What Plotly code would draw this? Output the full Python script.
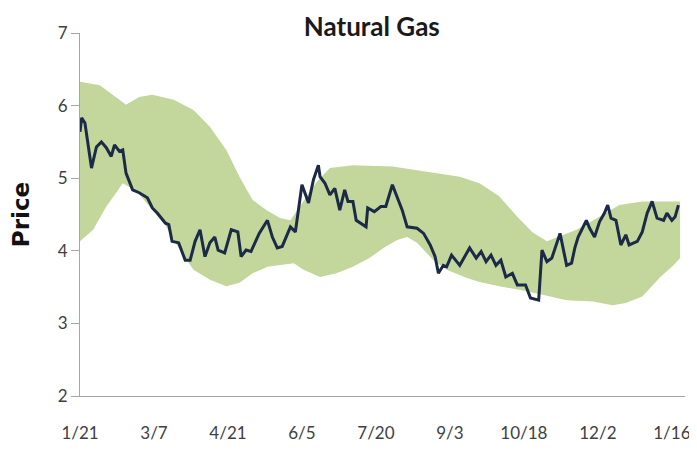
#!/usr/bin/env python3
"""Natural Gas price with trading band."""

import pandas as pd
import plotly.graph_objects as go

START = pd.Timestamp('2013-01-21')

# Price line: days since 1/21 and price
price_days = [0, 1, 3, 7, 10, 13, 16, 19, 21, 24, 26, 28, 32, 36, 41, 44, 47, 52, 54, 56,
              60, 64, 67, 70, 73, 76, 79, 82, 84, 88, 92, 96, 98, 101, 104, 109, 114, 117, 120, 123,
              128, 131, 135, 139, 142, 145, 146, 149, 152, 155, 158, 161, 163, 166, 168, 172, 174, 175, 179, 183,
              186, 190, 193, 196, 199, 205, 209, 213, 216, 218, 221, 223, 226, 231, 237, 241, 244, 247, 250, 253,
              256, 259, 263, 266, 271, 274, 279, 281, 284, 287, 292, 296, 299, 301, 303, 308, 310, 313, 316, 319,
              321, 323, 326, 329, 332, 334, 339, 342, 345, 348, 351, 355, 357, 360, 362, 364]
price = [5.64, 5.83, 5.76, 5.14, 5.43, 5.50, 5.42, 5.30, 5.46, 5.37, 5.39, 5.07, 4.84, 4.80, 4.73, 4.59, 4.52, 4.38, 4.36, 4.13,
         4.11, 3.87, 3.87, 4.13, 4.29, 3.92, 4.11, 4.19, 4.01, 3.97, 4.29, 4.26, 3.92, 4.01, 3.99, 4.24, 4.42, 4.19, 4.04, 4.06,
         4.33, 4.26, 4.91, 4.66, 4.98, 5.18, 5.02, 4.93, 4.77, 4.86, 4.56, 4.84, 4.68, 4.68, 4.42, 4.36, 4.33, 4.59, 4.54, 4.61,
         4.61, 4.91, 4.73, 4.56, 4.33, 4.31, 4.24, 4.08, 3.92, 3.69, 3.80, 3.78, 3.94, 3.80, 4.04, 3.90, 3.99, 3.85, 3.94, 3.80,
         3.87, 3.64, 3.69, 3.53, 3.53, 3.35, 3.32, 4.01, 3.85, 3.90, 4.24, 3.80, 3.83, 4.04, 4.19, 4.42, 4.31, 4.19, 4.40, 4.52,
         4.63, 4.45, 4.42, 4.08, 4.22, 4.08, 4.13, 4.26, 4.52, 4.68, 4.45, 4.42, 4.52, 4.42, 4.47, 4.63]

# Band upper edge
upper_days = [0, 12, 24, 28, 36, 44, 57, 69, 79, 89, 97, 105, 114, 122, 128, 136, 144, 152, 166, 190,
              211, 231, 243, 255, 266, 275, 284, 302, 316, 328, 342, 365]
upper = [6.33, 6.28, 6.08, 6.01, 6.12, 6.15, 6.08, 5.94, 5.71, 5.39, 5.02, 4.70, 4.55, 4.45, 4.42, 4.68, 4.95, 5.14, 5.18, 5.16,
         5.09, 5.02, 4.93, 4.75, 4.47, 4.26, 4.13, 4.29, 4.47, 4.63, 4.68, 4.68]

# Band lower edge
lower_days = [0, 8, 16, 22, 26, 32, 36, 43, 52, 61, 69, 79, 89, 97, 105, 114, 122, 130, 136, 146,
              156, 166, 176, 186, 193, 199, 205, 215, 223, 235, 243, 255, 268, 282, 296, 312, 324, 332, 342, 353,
              361, 365]
lower = [4.13, 4.29, 4.61, 4.80, 4.93, 4.85, 4.78, 4.60, 4.35, 4.00, 3.74, 3.60, 3.51, 3.56, 3.69, 3.78, 3.80, 3.83, 3.74, 3.64,
         3.69, 3.78, 3.90, 4.06, 4.15, 4.19, 4.11, 3.87, 3.74, 3.63, 3.57, 3.51, 3.46, 3.39, 3.32, 3.30, 3.25, 3.28, 3.37, 3.64,
         3.80, 3.90]

tick_days = [0, 45, 90, 135, 180, 225, 270, 315, 360]
tick_labels = ['1/21', '3/7', '4/21', '6/5', '7/20', '9/3', '10/18', '12/2', '1/16']

COLORS = {
    'band': '#c3d69b',
    'line': '#1b2a47',
    'axis': '#a6a6a6',
    'text': '#404040',
}


def to_dates(days):
    return [START + pd.Timedelta(days=d) for d in days]


fig = go.Figure()

# Band as one closed polygon: upper edge forward, lower edge back
band_x = to_dates(upper_days) + to_dates(lower_days[::-1])
band_y = upper + lower[::-1]
fig.add_trace(go.Scatter(
    x=band_x, y=band_y,
    mode='lines',
    fill='toself',
    fillcolor=COLORS['band'],
    line=dict(width=0, color=COLORS['band']),
    hoverinfo='skip',
    showlegend=False,
))

fig.add_trace(go.Scatter(
    x=to_dates(price_days), y=price,
    mode='lines',
    line=dict(color=COLORS['line'], width=3),
    showlegend=False,
))

# the page body adds an 8px offset, so the figure is a bit smaller than the window
fig.update_layout(
    width=689, height=446,
    title=dict(text='<b>Natural Gas</b>', x=0.528, xanchor='center', y=0.958, yanchor='middle',
               font=dict(family='Lato', size=26, color='#1a1a1a')),
    xaxis=dict(
        range=[START, START + pd.Timedelta(days=368)],
        tickvals=to_dates(tick_days),
        ticktext=tick_labels,
        showgrid=False,
        zeroline=False,
        showline=True,
        linecolor=COLORS['axis'],
        linewidth=1,
        ticks='',
        ticklabelstandoff=22,
        automargin=False,
        tickfont=dict(family='Lato', size=17, color=COLORS['text']),
    ),
    yaxis=dict(
        range=[2, 7],
        dtick=1,
        showgrid=False,
        zeroline=False,
        showline=True,
        linecolor=COLORS['axis'],
        linewidth=1,
        ticks='outside',
        ticklen=8,
        tickcolor=COLORS['axis'],
        automargin=False,
        tickfont=dict(family='Lato', size=17, color=COLORS['text']),
        title=dict(text='<b>Price</b>', standoff=22,
                   font=dict(family='DejaVu Sans', size=23, color='#111111')),
    ),
    plot_bgcolor='white',
    paper_bgcolor='white',
    margin=dict(l=72, r=12, t=25, b=58),
)

fig.write_html('out.html')
